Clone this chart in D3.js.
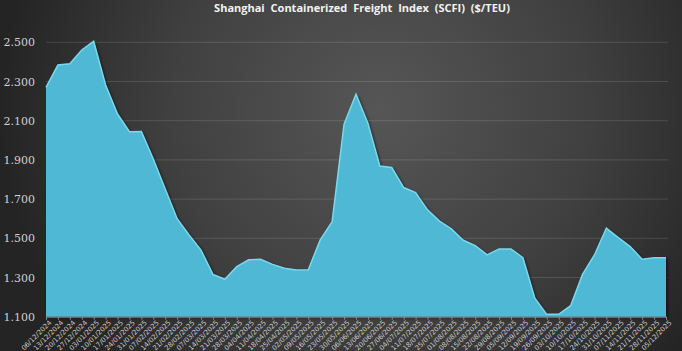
<!DOCTYPE html>
<html>
<head>
<meta charset="utf-8">
<script src="https://cdn.jsdelivr.net/npm/d3@7"></script>
<style>
  body { margin: 0; background: #2a2a2a; }
  svg { display: block; }
</style>
</head>
<body>
<svg id="svg" width="682" height="351"></svg>
<script>
var width = 682;
var height = 351;

// weekly SCFI readings
var dates = ['06/12/2024','13/12/2024','20/12/2024','27/12/2024','03/01/2025','10/01/2025','17/01/2025',
  '24/01/2025','31/01/2025','07/02/2025','14/02/2025','21/02/2025','28/02/2025','07/03/2025','14/03/2025',
  '21/03/2025','28/03/2025','04/04/2025','11/04/2025','18/04/2025','25/04/2025','02/05/2025','09/05/2025',
  '16/05/2025','23/05/2025','30/05/2025','06/06/2025','13/06/2025','20/06/2025','27/06/2025','04/07/2025',
  '11/07/2025','18/07/2025','25/07/2025','01/08/2025','08/08/2025','15/08/2025','22/08/2025','29/08/2025',
  '05/09/2025','12/09/2025','19/09/2025','26/09/2025','03/10/2025','10/10/2025','17/10/2025','24/10/2025',
  '31/10/2025','07/11/2025','14/11/2025','21/11/2025','28/11/2025','05/12/2025'];

var values = [2270, 2384, 2390, 2461, 2505, 2282, 2134, 2044, 2045, 1905, 1752, 1600, 1517, 1440, 1316,
  1291, 1355, 1390, 1393, 1367, 1347, 1338, 1340, 1492, 1585, 2082, 2235, 2087, 1869, 1861, 1759,
  1733, 1645, 1588, 1548, 1490, 1463, 1415, 1446, 1446, 1401, 1194, 1112, 1112, 1156, 1316, 1415,
  1551, 1503, 1458, 1393, 1401, 1401];

var yTicks = [1100, 1300, 1500, 1700, 1900, 2100, 2300, 2500];

var title = 'Shanghai Containerized Freight Index (SCFI) ($/TEU)';

var plotLeft = 46, plotRight = 666, plotTop = 42.3, plotBottom = 316.7;

var svg = d3.select('svg');
var defs = svg.append('defs');

var bg = defs.append('radialGradient')
    .attr('id', 'bg')
    .attr('gradientUnits', 'userSpaceOnUse')
    .attr('cx', 380).attr('cy', 110).attr('r', 380);
bg.append('stop').attr('offset', '0%').attr('stop-color', '#565656');
bg.append('stop').attr('offset', '55%').attr('stop-color', '#404040');
bg.append('stop').attr('offset', '100%').attr('stop-color', '#242424');

var shadow = defs.append('filter').attr('id', 'shadow')
    .attr('x', '-5%').attr('y', '-5%').attr('width', '110%').attr('height', '110%');
shadow.append('feDropShadow')
    .attr('dx', 2).attr('dy', 1).attr('stdDeviation', 1.5)
    .attr('flood-color', '#000').attr('flood-opacity', 0.5);

svg.append('rect')
    .attr('width', width).attr('height', height)
    .attr('fill', 'url(#bg)');

var x = d3.scalePoint()
    .domain(dates)
    .range([plotLeft, plotRight]);

var y = d3.scaleLinear()
    .domain([1100, 2500])
    .range([plotBottom, plotTop]);

// grid
svg.append('g')
    .selectAll('line')
    .data(yTicks.slice(1))
    .enter()
    .append('line')
    .attr('x1', plotLeft)
    .attr('x2', 668)
    .attr('y1', function(d){ return y(d); })
    .attr('y2', function(d){ return y(d); })
    .attr('stroke', 'rgba(255,255,255,0.13)')
    .attr('stroke-width', 1);

// y labels
svg.append('g')
    .selectAll('text')
    .data(yTicks)
    .enter()
    .append('text')
    .attr('x', 35)
    .attr('y', function(d){ return y(d) + 4; })
    .attr('text-anchor', 'end')
    .attr('fill', '#d0d0d0')
    .style('font-family', '"DejaVu Serif", serif')
    .style('font-size', '11px')
    .text(function(d){ return d3.format(',')(d).replace(',', '.'); });

var area = d3.area()
    .x(function(d, i){ return x(dates[i]); })
    .y0(plotBottom)
    .y1(function(d){ return y(d); });

var line = d3.line()
    .x(function(d, i){ return x(dates[i]); })
    .y(function(d){ return y(d); });

svg.append('path')
    .datum(values)
    .attr('d', area)
    .attr('fill', '#4fb9d5')
    .attr('filter', 'url(#shadow)');

svg.append('path')
    .datum(values)
    .attr('d', line)
    .attr('fill', 'none')
    .attr('stroke', '#7ad8ee')
    .attr('stroke-width', 1.5);

// x axis
var xAxis = svg.append('g')
    .attr('transform', 'translate(0,' + plotBottom + ')')
    .call(d3.axisBottom(x).tickSize(3).tickPadding(2));

xAxis.select('.domain')
    .attr('stroke', '#8a8a8a');
xAxis.selectAll('.tick line')
    .attr('stroke', '#8a8a8a');
xAxis.selectAll('.tick text')
    .attr('fill', '#c8c8c8')
    .attr('text-anchor', 'end')
    .attr('transform', 'rotate(-45)')
    .attr('dx', '-0.1em')
    .attr('dy', '0.5em')
    .style('font-family', '"DejaVu Sans", sans-serif')
    .style('font-size', '6.8px');

svg.append('text')
    .attr('x', 362)
    .attr('y', 12)
    .attr('text-anchor', 'middle')
    .attr('fill', '#f2f2f2')
    .style('font-family', '"Open Sans", sans-serif')
    .style('font-weight', 'bold')
    .style('font-size', '11px')
    .style('word-spacing', '3px')
    .text(title);
</script>
</body>
</html>
